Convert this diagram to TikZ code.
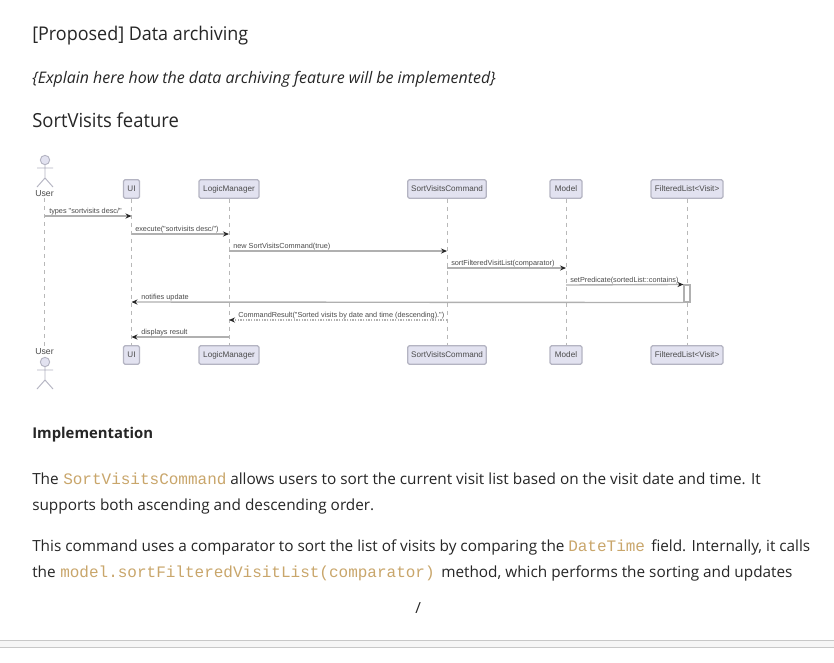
\documentclass[tikz,border=0pt]{standalone}
\usepackage{fontspec}
\usepackage{graphicx}
\usetikzlibrary{arrows.meta,calc}
\setmainfont{Open Sans}
\newfontfamily\headfont{Open Sans}[FakeStretch=0.95]
\newfontfamily\codefont{Liberation Mono}
\newfontfamily\diagfont{Liberation Sans}
\definecolor{ink}{HTML}{262626}
\definecolor{codetan}{HTML}{C9A66B}
\definecolor{boxfill}{HTML}{E2E2F0}
\definecolor{boxline}{HTML}{B4B4C2}
\definecolor{lifecol}{HTML}{B8B8B8}
\definecolor{msgcol}{HTML}{B0B0B0}
\definecolor{msgtext}{HTML}{4A4A4A}
\definecolor{barfill}{HTML}{F6F6F6}
\definecolor{barline}{HTML}{C8C8C8}
\tikzset{
  x=0.75pt,y=-0.75pt,
  txt/.style={inner sep=0pt,anchor=base west,text=ink},
  body/.style={txt,font=\fontsize{11.5pt}{14pt}\selectfont},
  code/.style={inner sep=0pt,anchor=base west,text=codetan,font=\fontsize{12pt}{14pt}\codefont},
  actorbox/.style={draw=boxline,fill=boxfill,line width=0.9pt,rounded corners=1.2pt,inner sep=0pt,minimum height=14pt,text=msgtext,font=\fontsize{6.1pt}{7pt}\diagfont},
  life/.style={draw=lifecol,line width=0.6pt,dash pattern=on 3pt off 3pt},
  msg/.style={draw=msgcol,line width=1.05pt,-{Stealth[length=4.5pt,width=3.8pt,color=ink,fill=ink]}},
  ret/.style={draw=msgcol,line width=0.8pt,dash pattern=on 1pt off 1pt,-{Stealth[length=4.5pt,width=3.8pt,color=ink,fill=ink]}},
  mlabel/.style={inner sep=0pt,anchor=base west,text=msgtext,font=\fontsize{5.47pt}{6pt}\diagfont},
  figure/.style={draw=boxline,line width=0.7pt},
  headc/.style={draw=boxline,fill=boxfill,line width=0.7pt,circle,inner sep=0pt,minimum size=7pt},
  ulabel/.style={inner sep=0pt,anchor=base,text=msgtext,font=\fontsize{6.5pt}{7pt}\diagfont}
}
\begin{document}
\begin{tikzpicture}
\useasboundingbox (0,0) rectangle (834,662);
\fill[white] (0,0) rectangle (834,662);
% page text
\node[txt,font=\fontsize{14.17pt}{16pt}\headfont] (t1) at (32,40) {[Proposed] Data archiving};
\node[txt,font=\fontsize{11.95pt}{14pt}\selectfont\itshape] (t2) at (32,83) {\{Explain here how the data archiving feature will be implemented\}};
\node[txt,font=\fontsize{14.55pt}{16pt}\headfont] (t3) at (32,127) {SortVisits feature};
\node[txt,font=\fontsize{11.15pt}{14pt}\selectfont\bfseries] (t4) at (32,438) {Implementation};
\node[body] (t5) at (32,484) {The};
\node[code] (c1) at (63,484) {SortVisitsCommand};
\node[body] (t6) at (230,484) {allows users to sort the current visit list based on the visit date and time. It};
\node[body] (t7) at (32,510) {supports both ascending and descending order.};
\node[body] (t8) at (32,551) {This command uses a comparator to sort the list of visits by comparing the};
\node[code] (c2) at (568,551) {DateTime};
\node[body] (t9) at (651,551) {field. Internally, it calls};
\node[body] (t10) at (32,577) {the};
\node[code] (c3) at (60,577) {model.sortFilteredVisitList(comparator)};
\node[body] (t11) at (441,577) {method, which performs the sorting and updates};
\node[body] (slash) at (415,613) {/};
% bottom bar
\fill[barfill] (0,640) rectangle (834,647);
\draw[barline,line width=0.7pt] (0,640) -- (834,640) (0,647) -- (834,647);
% participants
\node[actorbox,minimum width=12pt] (uiT) at (131.5,189) {UI};
\node[actorbox,minimum width=45pt] (lmT) at (229,189) {LogicManager};
\node[actorbox,minimum width=59pt] (svT) at (447,189) {SortVisitsCommand};
\node[actorbox,minimum width=24pt] (moT) at (566,189) {Model};
\node[actorbox,minimum width=54pt] (flT) at (687,189) {FilteredList<Visit>};
\node[actorbox,minimum width=12pt] (uiB) at (131.5,355) {UI};
\node[actorbox,minimum width=45pt] (lmB) at (229,355) {LogicManager};
\node[actorbox,minimum width=59pt] (svB) at (447,355) {SortVisitsCommand};
\node[actorbox,minimum width=24pt] (moB) at (566,355) {Model};
\node[actorbox,minimum width=54pt] (flB) at (687,355) {FilteredList<Visit>};
\node[ulabel] (usT) at (44.5,196) {User};
\node[ulabel] (usB) at (44.5,354) {User};
% lifelines
\coordinate (usL1) at (44.5,198);
\coordinate (usL2) at (44.5,346);
\draw[life] (usL1) -- (usL2);
\draw[life] (uiT) -- (uiB);
\draw[life] (lmT) -- (lmB);
\draw[life] (svT) -- (svB);
\draw[life] (moT) -- (moB);
\draw[life] (flT) -- (flB);
% actors
\node[headc] (h1) at (45,160) {};
\coordinate (b1) at (45,178);
\draw[figure] (h1) -- (b1) (37,168) -- (53,168) (37,187) -- (b1) -- (53,187);
\node[headc] (h2) at (45,362) {};
\coordinate (b2) at (45,380);
\draw[figure] (h2) -- (b2) (37,370) -- (53,370) (37,389) -- (b2) -- (53,389);
% activation
\node[draw=msgcol,fill=white,line width=0.8pt,inner sep=0pt,minimum width=4.5pt,minimum height=12.75pt] (act) at (687,293.5) {};
% message rows
\coordinate (m1) at (0,216);
\coordinate (m2) at (0,234);
\coordinate (m3) at (0,251);
\coordinate (m4) at (0,268);
\coordinate (m5) at (0,285);
\coordinate (m6) at (0,302);
\coordinate (m7) at (0,320);
\coordinate (m8) at (0,337);
\draw[msg] (usL1 |- m1) -- (uiT |- m1);
\draw[msg] (uiT |- m2) -- (lmT |- m2);
\draw[msg] (lmT |- m3) -- (svT |- m3);
\draw[msg] (svT |- m4) -- (moT |- m4);
\draw[msg] (moT |- m5) -- (act.north west);
\draw[msg] (act.south west) -- (uiT |- m6);
\draw[ret] (svT |- m7) -- (lmT |- m7);
\draw[msg] (lmT |- m8) -- (uiT |- m8);
\node[mlabel] (l1) at (49,213) {types "sortvisits desc/"};
\node[mlabel] (l2) at (135,231) {execute("sortvisits desc/")};
\node[mlabel] (l3) at (233,248) {new SortVisitsCommand(true)};
\node[mlabel] (l4) at (451,265) {sortFilteredVisitList(comparator)};
\node[mlabel] (l5) at (570,282) {setPredicate(sortedList::contains)};
\node[mlabel] (l6) at (141,299.5) {notifies update};
\node[mlabel] (l7) at (238,317) {\resizebox{154.5pt}{\height}{CommandResult("Sorted visits by date and time (descending).")}};
\node[mlabel] (l8) at (141,334) {displays result};
\end{tikzpicture}
\end{document}
